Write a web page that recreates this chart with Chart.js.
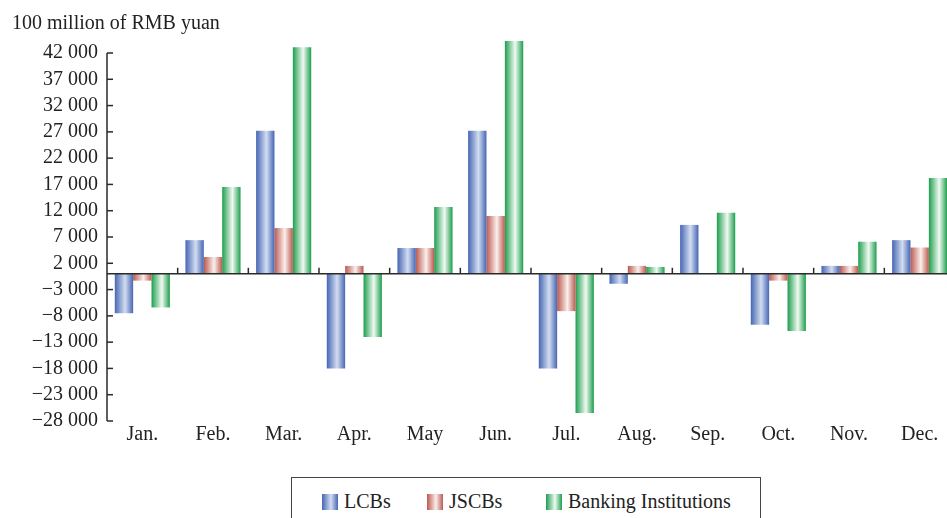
<!DOCTYPE html>
<html>
<head>
<meta charset="utf-8">
<script src="https://cdn.jsdelivr.net/npm/chart.js@4"></script>
<style>
  body { margin: 0; background: #fff; overflow: hidden; }
  .wrap { position: relative; width: 960px; height: 518px; }
  .legend {
    position: absolute; left: 291px; top: 477px; width: 468px; height: 60px;
    border: 1.5px solid #444; background: #fff;
    font-family: "Liberation Serif", "DejaVu Serif", serif; font-size: 20px; color: #222;
  }
  .item { position: absolute; top: 12px; display: flex; align-items: center; white-space: nowrap; }
  .sw { width: 16px; height: 16px; margin-right: 6px; }
</style>
</head>
<body>
<div class="wrap">
  <canvas id="chart" width="960" height="518"></canvas>
  <div class="legend" id="legend"></div>
</div>
<script>
const labels = ['Jan.', 'Feb.', 'Mar.', 'Apr.', 'May', 'Jun.', 'Jul.', 'Aug.', 'Sep.', 'Oct.', 'Nov.', 'Dec.'];
const lcbs = [-7500, 6400, 27200, -18000, 4900, 27200, -18000, -1900, 9300, -9700, 1500, 6400];
const jscbs = [-1300, 3200, 8700, 1500, 4900, 11000, -7100, 1500, 0, -1300, 1500, 5000];
const banks = [-6400, 16500, 43100, -12000, 12700, 44300, -26500, 1300, 11600, -10900, 6100, 18200];
const seriesNames = ['LCBs', 'JSCBs', 'Banking Institutions'];
const yMin = -28000, yMax = 42000, yStep = 5000;
const unitTitle = '100 million of RMB yuan';

const CAT_PCT = 0.78;
const FONT = '"Liberation Serif", "DejaVu Serif", serif';
const colors = [
  { edge: '#4566b3', mid: '#d3ddf1' },
  { edge: '#bb5a50', mid: '#fbefec' },
  { edge: '#1d9e4e', mid: '#f1faf2' }
];

// horizontal gradient across each bar (dark edges, light middle)
function barFill(edge, mid) {
  return (c) => {
    const chart = c.chart;
    const x = chart.scales.x;
    if (!chart.chartArea || !x || c.type !== 'data') return edge;
    const group = x.width / labels.length * CAT_PCT;
    const bw = group / 3;
    const left = x.getPixelForValue(c.dataIndex) - group / 2 + c.datasetIndex * bw;
    const g = chart.ctx.createLinearGradient(left, 0, left + bw, 0);
    g.addColorStop(0, edge);
    g.addColorStop(0.56, mid);
    g.addColorStop(1, edge);
    return g;
  };
}

function fmt(v) {
  const s = Math.abs(v).toString().replace(/\B(?=(\d{3})+(?!\d))/g, ' ');
  return (v < 0 ? '\u2212' : '') + s;
}

// y axis line, inside ticks, zero line and category ticks
const axisMarks = {
  id: 'axisMarks',
  afterDatasetsDraw(chart) {
    const { ctx, chartArea, scales: { x, y } } = chart;
    ctx.save();
    ctx.strokeStyle = '#2a2a2a';
    ctx.lineWidth = 1.5;
    const line = (x1, y1, x2, y2) => { ctx.beginPath(); ctx.moveTo(x1, y1); ctx.lineTo(x2, y2); ctx.stroke(); };
    line(chartArea.left, chartArea.top, chartArea.left, chartArea.bottom);
    y.ticks.forEach(t => {
      const py = y.getPixelForValue(t.value);
      line(chartArea.left, py, chartArea.left + 6, py);
    });
    const zy = y.getPixelForValue(0);
    line(chartArea.left, zy, chartArea.right, zy);
    for (let i = 1; i < labels.length; i++) {
      const px = (x.getPixelForValue(i - 1) + x.getPixelForValue(i)) / 2;
      line(px, zy, px, zy - 6);
    }
    ctx.restore();
  }
};

const data = {
  labels: labels,
  datasets: [lcbs, jscbs, banks].map((vals, i) => ({
    label: seriesNames[i],
    data: vals,
    backgroundColor: barFill(colors[i].edge, colors[i].mid),
    borderWidth: 0,
    barPercentage: 1,
    categoryPercentage: CAT_PCT,
    clip: false
  }))
};

new Chart(document.getElementById('chart').getContext('2d'), {
  type: 'bar',
  data: data,
  plugins: [axisMarks],
  options: {
    responsive: false,
    animation: false,
    layout: { padding: { left: 12, right: 5, top: 0, bottom: 0 } },
    plugins: {
      legend: { display: false },
      tooltip: { enabled: false },
      title: {
        display: true,
        text: unitTitle,
        align: 'start',
        color: '#222',
        font: { family: FONT, size: 20, weight: 'normal' },
        padding: { top: 12, bottom: 17 }
      }
    },
    scales: {
      x: {
        grid: { display: false, drawTicks: false },
        border: { display: false },
        ticks: { color: '#222', padding: 2, autoSkip: false, maxRotation: 0, font: { family: FONT, size: 20 } },
        afterFit: (s) => { s.height = 97; }
      },
      y: {
        min: yMin,
        max: yMax,
        grid: { display: false, drawTicks: false },
        border: { display: false },
        ticks: {
          stepSize: yStep,
          autoSkip: false,
          padding: 9,
          color: '#222',
          font: { family: FONT, size: 20 },
          callback: (v) => fmt(v)
        },
        afterFit: (s) => { s.width = 95; }
      }
    }
  }
});

// legend box below the chart
const legend = document.getElementById('legend');
const lefts = [30, 135, 254];
seriesNames.forEach((name, i) => {
  const it = document.createElement('div');
  it.className = 'item';
  it.style.left = lefts[i] + 'px';
  const sw = document.createElement('span');
  sw.className = 'sw';
  sw.style.background = 'linear-gradient(to right, ' + colors[i].edge + ', ' + colors[i].mid + ' 56%, ' + colors[i].edge + ')';
  const tx = document.createElement('span');
  tx.textContent = name;
  it.appendChild(sw);
  it.appendChild(tx);
  legend.appendChild(it);
});
</script>
</body>
</html>
